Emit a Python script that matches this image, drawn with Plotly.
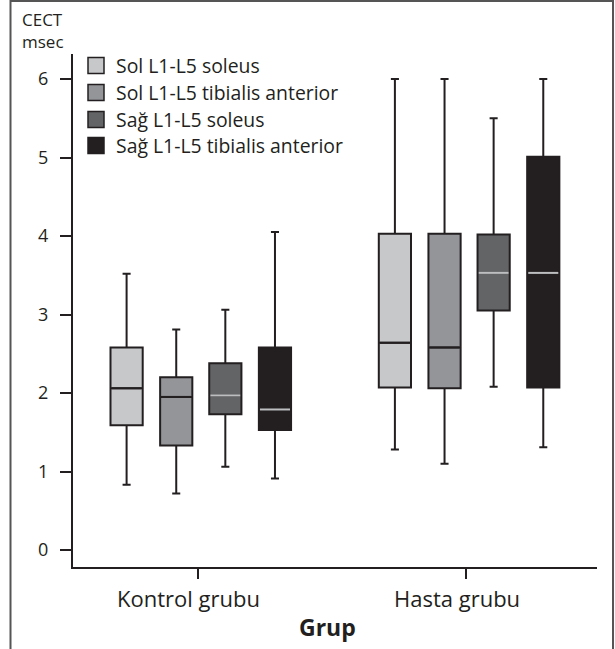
import plotly.graph_objects as go

# Groups and series
groups = ["Kontrol grubu", "Hasta grubu"]
series = [
    "Sol L1-L5 soleus",
    "Sol L1-L5 tibialis anterior",
    "Sağ L1-L5 soleus",
    "Sağ L1-L5 tibialis anterior",
]

# Box statistics (CECT, msec), one list per series: [Kontrol, Hasta]
lower_whisker = [[0.83, 1.28], [0.72, 1.10], [1.06, 2.08], [0.91, 1.31]]
q1_values = [[1.59, 2.07], [1.33, 2.06], [1.73, 3.05], [1.53, 2.07]]
medians = [[2.06, 2.64], [1.95, 2.58], [1.97, 3.53], [1.79, 3.53]]
q3_values = [[2.58, 4.03], [2.20, 4.03], [2.38, 4.02], [2.58, 5.01]]
upper_whisker = [[3.52, 6.00], [2.81, 6.00], [3.06, 5.50], [4.05, 6.00]]

y_ticks = [0, 1, 2, 3, 4, 5, 6]

# Styling
fills = ["#c7c8ca", "#939598", "#636466", "#231f20"]
median_colors = ["#231f20", "#231f20", "#bcbec0", "#bcbec0"]
ink = "#231f20"
font_family = "Open Sans, DejaVu Sans, sans-serif"

W, H = 615, 649
ML, MR, MT, MB = 73, 18, 54, 82
plot_w = W - ML - MR
plot_h = H - MT - MB

offsets = [-0.265, -0.080, 0.103, 0.288]
box_width = 0.12


def px_to_paper_x(px):
    return (px - ML) / plot_w


def px_to_paper_y(py):
    return (H - MB - py) / plot_h


fig = go.Figure()

for k, name in enumerate(series):
    xs = [g + offsets[k] for g in range(len(groups))]
    fig.add_trace(go.Box(
        x=xs,
        q1=q1_values[k],
        median=medians[k],
        q3=q3_values[k],
        lowerfence=lower_whisker[k],
        upperfence=upper_whisker[k],
        width=box_width,
        whiskerwidth=0.25,
        fillcolor=fills[k],
        line=dict(color=ink, width=2),
        boxpoints=False,
        name=name,
        showlegend=False,
        hoverinfo="skip",
    ))

# Median lines drawn in their own colour on top of the boxes
for k in range(len(series)):
    mx, my = [], []
    for g in range(len(groups)):
        c = g + offsets[k]
        mx += [c - box_width / 2 + 0.004, c + box_width / 2 - 0.004, None]
        my += [medians[k][g], medians[k][g], None]
    fig.add_trace(go.Scatter(
        x=mx, y=my, mode="lines",
        line=dict(color=median_colors[k], width=2),
        showlegend=False, hoverinfo="skip",
    ))

# Legend entries: one small legend per series
legend_rows_px = [66, 93, 120, 146]
legend_names = ["legend", "legend2", "legend3", "legend4"]
legend_layout = {}
for k, name in enumerate(series):
    fig.add_trace(go.Scatter(
        x=[None], y=[None], mode="markers",
        marker=dict(symbol="square", size=16, color=fills[k],
                    line=dict(color=ink, width=1.5)),
        name=name, legend=legend_names[k], showlegend=True,
    ))
    legend_layout[legend_names[k]] = dict(
        x=px_to_paper_x(76), y=px_to_paper_y(legend_rows_px[k]),
        xanchor="left", yanchor="middle",
        bgcolor="rgba(0,0,0,0)", borderwidth=0,
        font=dict(family=font_family, size=19.4, color=ink),
    )

# Group labels under the category ticks
for g, label in enumerate(groups):
    fig.add_annotation(
        x=g, xref="x", y=px_to_paper_y(598), yref="paper",
        text=label, showarrow=False, xshift=-9,
        font=dict(family=font_family, size=22, color=ink),
        xanchor="center", yanchor="middle",
    )

fig.add_annotation(
    x=px_to_paper_x(327), y=px_to_paper_y(627), xref="paper", yref="paper",
    text="<b>Grup</b>", showarrow=False,
    font=dict(family=font_family, size=23, color=ink),
    xanchor="center", yanchor="middle",
)

# Y-axis title in two lines above the axis
fig.add_annotation(
    x=px_to_paper_x(20), y=px_to_paper_y(30), xref="paper", yref="paper",
    text="CECT<br>msec", showarrow=False, align="left",
    font=dict(family=font_family, size=17, color=ink),
    xanchor="left", yanchor="middle",
)

# Outer frame (open at the bottom)
fig.add_shape(
    type="path",
    path="M {l},{b} L {l},{t} L {r},{t} L {r},{b}".format(
        l=px_to_paper_x(10.5), r=px_to_paper_x(613),
        t=px_to_paper_y(1), b=px_to_paper_y(660)),
    xref="paper", yref="paper",
    line=dict(color="#555555", width=2),
)

y_per_px = 6 / (550 - 79)
fig.update_layout(
    width=W, height=H,
    margin=dict(l=ML, r=MR, t=MT, b=MB, pad=0),
    paper_bgcolor="white", plot_bgcolor="white",
    boxmode="overlay",
    showlegend=True,
    font=dict(family=font_family, color=ink),
    xaxis=dict(
        range=[-(197.7 - ML) / 268.3, 1 + (597 - 466) / 268.3],
        tickvals=list(range(len(groups))),
        showticklabels=False,
        ticks="outside", ticklen=10, tickwidth=2, tickcolor=ink,
        showline=True, linewidth=2, linecolor=ink,
        showgrid=False, zeroline=False, fixedrange=True,
    ),
    yaxis=dict(
        range=[-(567 - 550) * y_per_px, (550 - 54) * y_per_px],
        tickvals=y_ticks,
        ticks="outside", ticklen=11, tickwidth=2, tickcolor=ink,
        ticklabelstandoff=8,
        tickfont=dict(family=font_family, size=18, color=ink),
        showline=True, linewidth=2, linecolor=ink,
        showgrid=False, zeroline=False, fixedrange=True,
    ),
    **legend_layout,
)

fig.write_html("out.html")
